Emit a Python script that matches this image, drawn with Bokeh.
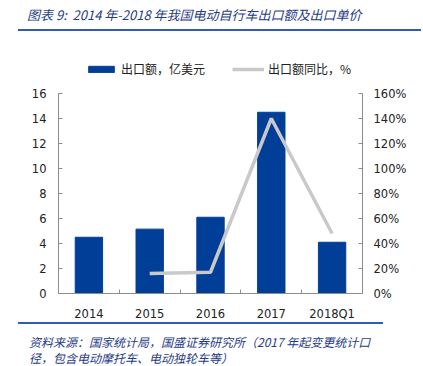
from bokeh.plotting import figure
from bokeh.layouts import column
from bokeh.models import (Range1d, LinearAxis, FixedTicker, Legend, LegendItem,
                          PrintfTickFormatter, Div)
from bokeh.embed import file_html
from bokeh.resources import INLINE

categories = ["2014", "2015", "2016", "2017", "2018Q1"]
export_value = [4.5, 5.15, 6.1, 14.5, 4.1]
yoy_categories = ["2015", "2016", "2017", "2018Q1"]
yoy_pct = [16, 17, 140, 48]
left_ticks = [0, 2, 4, 6, 8, 10, 12, 14, 16]
right_ticks = [0, 20, 40, 60, 80, 100, 120, 140, 160]

title_text = "图表 9:&nbsp; 2014 年-2018 年我国电动自行车出口额及出口单价"
bar_label = "出口额，亿美元"
line_label = "出口额同比，%"
note1 = "资料来源：国家统计局，国盛证券研究所（2017 年起变更统计口"
note2 = "径，包含电动摩托车、电动独轮车等）"

CJK = "Noto Sans CJK SC"
NUM = "DejaVu Sans"
BLUE = "#003E98"
GRAY = "#C9C9C9"
AX = "#8C8C8C"
TXT_BLUE = "#1F3C88"
RULE = "#2F5DB0"

x_idx = list(range(len(categories)))
yoy_idx = [categories.index(c) for c in yoy_categories]

# geometry (pixels): figure spans y 31..325 of the page, frame 31..293
FIG_H = 294
BOTTOM = 32
FRAME_H = FIG_H - BOTTOM          # 262
AXIS_PX = 200                     # axis 0..16 occupies 200 px
y_top = left_ticks[-1] * FRAME_H / AXIS_PX
pct_top = right_ticks[-1] * FRAME_H / AXIS_PX

title_div = Div(
    width=423, height=31, margin=0,
    text=(
        '<div style="position:relative;width:423px;height:31px;">'
        f'<div style="position:absolute;left:27px;top:6px;white-space:nowrap;'
        f"font-family:'{CJK}';font-style:italic;font-size:13px;line-height:17px;"
        f'color:{TXT_BLUE};">{title_text}</div>'
        f'<div style="position:absolute;left:18px;top:29px;width:403px;height:2px;'
        f'background:{RULE};"></div></div>'
    ),
)

p = figure(width=423, height=FIG_H, output_backend="svg", toolbar_location=None,
           x_range=Range1d(-0.5, len(categories) - 0.5), y_range=Range1d(0, y_top),
           min_border_left=58, min_border_right=61, min_border_top=0,
           min_border_bottom=BOTTOM, margin=0)
p.extra_y_ranges = {"pct": Range1d(0, pct_top)}
p.outline_line_color = None
p.grid.visible = False

r_bar = p.vbar(x=x_idx, top=export_value, width=0.45, fill_color=BLUE,
               line_color=BLUE)
r_line = p.line(x=yoy_idx, y=yoy_pct, y_range_name="pct", line_color=GRAY,
                line_width=3.5)

# x axis
xa = p.xaxis[0]
xa.ticker = FixedTicker(ticks=x_idx, minor_ticks=[0.5, 1.5, 2.5, 3.5])
xa.major_label_overrides = {i: c for i, c in zip(x_idx, categories)}
xa.major_tick_line_color = None
xa.minor_tick_in = 4
xa.minor_tick_out = 0
xa.minor_tick_line_color = AX
xa.axis_line_color = AX
xa.major_label_standoff = 7
xa.major_label_text_font = NUM
xa.major_label_text_font_size = "11.5px"
xa.major_label_text_color = "#222222"

# left axis
ya = p.yaxis[0]
ya.ticker = FixedTicker(ticks=left_ticks)
ya.bounds = (left_ticks[0], left_ticks[-1])
ya.minor_tick_line_color = None
ya.major_tick_in = 4
ya.major_tick_out = 0
ya.major_tick_line_color = AX
ya.axis_line_color = AX
ya.major_label_standoff = 12
ya.major_label_text_font = NUM
ya.major_label_text_font_size = "11.5px"
ya.major_label_text_color = "#222222"

# right axis
ra = LinearAxis(y_range_name="pct", ticker=FixedTicker(ticks=right_ticks),
                formatter=PrintfTickFormatter(format="%d%%"),
                bounds=(right_ticks[0], right_ticks[-1]))
ra.minor_tick_line_color = None
ra.major_tick_in = 4
ra.major_tick_out = 0
ra.major_tick_line_color = AX
ra.axis_line_color = AX
ra.major_label_standoff = 11
ra.major_label_text_font = NUM
ra.major_label_text_font_size = "11.5px"
ra.major_label_text_color = "#222222"
p.add_layout(ra, "right")

legend = Legend(
    items=[LegendItem(label=bar_label, renderers=[r_bar]),
           LegendItem(label=line_label, renderers=[r_line])],
    orientation="horizontal", location=(27, 216), padding=0, margin=0, spacing=27,
    border_line_color=None, background_fill_alpha=0,
    label_text_font=CJK, label_text_font_size="12px", label_height=12,
    label_standoff=4, glyph_height=8, glyph_width=32, label_text_color="#222222")
p.add_layout(legend)

note_div = Div(
    width=423, height=41, margin=0,
    text=(
        '<div style="position:relative;width:423px;height:41px;">'
        f'<div style="position:absolute;left:18px;top:-3px;width:365px;height:2px;'
        f'background:{RULE};"></div>'
        f'<div style="position:absolute;left:29px;top:9px;white-space:nowrap;'
        f"font-family:'{CJK}';font-style:italic;font-size:12px;line-height:16px;"
        f'color:{TXT_BLUE};">{note1}<br>{note2}</div></div>'
    ),
)

layout = column(title_div, p, note_div, spacing=0, margin=0)
open("out.html", "w").write(file_html(layout, INLINE))
